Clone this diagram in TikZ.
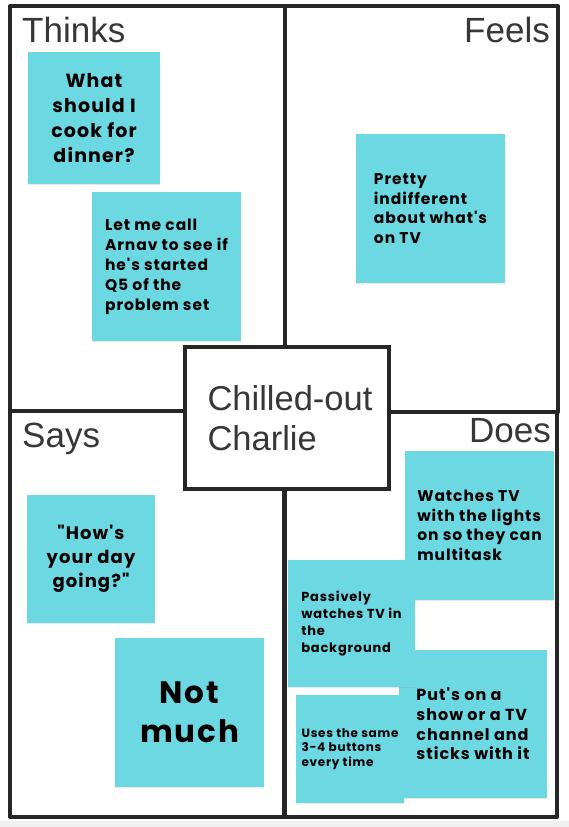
\documentclass[tikz,border=0pt]{standalone}
\usepackage{fontspec}
\setmainfont{Liberation Sans}
\newfontfamily\notefont{Poppins}[LetterSpace=6]
\usepackage{xcolor}
\usetikzlibrary{positioning,shadows}

\definecolor{notecyan}{RGB}{108,216,226}
\definecolor{framegray}{RGB}{38,38,38}
\definecolor{labelgray}{RGB}{55,55,55}
\definecolor{stripgray}{RGB}{240,240,240}

\newcommand{\notesize}[2]{\notefont\bfseries\fontsize{#1}{#2}\selectfont}

\begin{document}
\begin{tikzpicture}[x=1pt, y=-1pt,
  quad/.style={draw=framegray, line width=4pt, line join=round},
  quadlabel/.style={text=labelgray, font=\fontsize{35}{40}\selectfont, inner sep=0pt},
  sticky/.style={fill=notecyan, text=black, inner sep=0pt, align=left,
    drop shadow={shadow xshift=0pt, shadow yshift=-1.2pt, opacity=0.18}},
  persona/.style={draw=framegray, line width=4pt, fill=white, text=labelgray,
    align=left, inner sep=0pt, font=\fontsize{34.5}{40}\selectfont}]
  \useasboundingbox (0,0) rectangle (569,827);
  \fill[white] (0,0) rectangle (569,827);
  \fill[stripgray] (0,821) rectangle (569,827);

  % Quadrants
  \foreach \xa/\ya/\xb/\yb in {10/6/285/411, 285/6/558/412, 10/411/284/817, 285/412/557/817}
    \draw[quad] (\xa,\ya) rectangle (\xb,\yb);

  % Quadrant labels
  \node[quadlabel, anchor=base west] (thinks) at (22,42) {Thinks};
  \node[quadlabel, anchor=base east] (feels) at (550,42) {Feels};
  \node[quadlabel, anchor=base west] (says) at (22,447) {Says};
  \node[quadlabel, anchor=base east] (does) at (551,442) {Does};

  % Thinks
  \node[sticky, align=center, minimum width=132, minimum height=132, font=\notesize{19}{25}]
    (think1) at (94,118) {What\\should I\\cook for\\dinner?};
  \node[sticky, minimum width=149, minimum height=149, font=\notesize{15.5}{20}]
    (think2) at (166.5,266.5) {Let me call\\Arnav to see if\\he's started\\Q5 of the\\problem set};

  % Feels
  \node[sticky, minimum width=149, minimum height=149, font=\notesize{15.5}{19.7}]
    (feel1) at (430.5,208.5) {Pretty\\indifferent\\about what's\\on TV};

  % Says
  \node[sticky, align=center, minimum width=128, minimum height=128, font=\notesize{18}{24}]
    (say1) at (91,559) {"How's\\your day\\going?"};
  \node[sticky, align=center, minimum width=149, minimum height=149, font=\notesize{31}{39}]
    (say2) at (189.5,712.5) {Not\\much};

  % Does
  \node[sticky, minimum width=149, minimum height=149, font=\notesize{15.5}{19.5}]
    (do1) at (479.5,525.5) {Watches TV\\with the lights\\on so they can\\multitask};
  \node[sticky, minimum width=148, minimum height=148, font=\notesize{16}{19.7}]
    (do3) at (473,724) {Put's on a\\show or a TV\\channel and\\sticks with it};
  \node[sticky, minimum width=127, minimum height=127, font=\notesize{13}{17}]
    (do2) at (351.5,623.5) {Passively\\watches TV in\\the\\background};
  \node[sticky, minimum width=108, minimum height=108, font=\notesize{12}{14.5}]
    (do4) at (350,749) {Uses the same\\3-4 buttons\\every time};

  % Persona
  \node[persona, minimum width=204, minimum height=142] (charlie) at (287,418)
    {\hspace*{6pt}Chilled-out\\\hspace*{6pt}Charlie};
\end{tikzpicture}
\end{document}
